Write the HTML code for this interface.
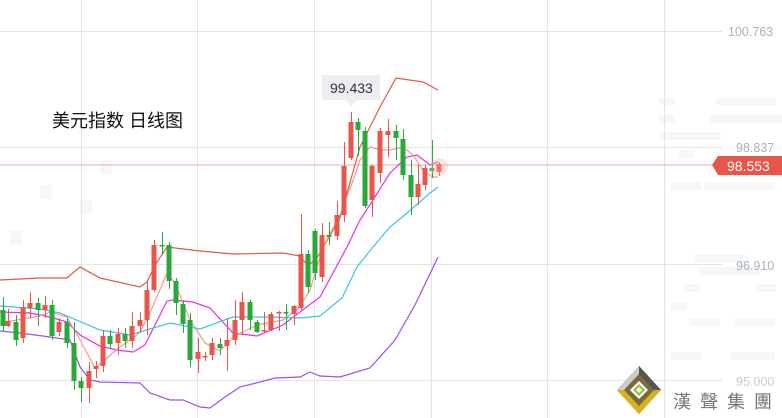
<!DOCTYPE html>
<html><head><meta charset="utf-8"><style>
html,body{margin:0;padding:0;background:#fff;}
svg{display:block;font-family:"Liberation Sans","Noto Sans CJK SC",sans-serif;}
</style></head><body>
<svg width="782" height="418" viewBox="0 0 782 418" xmlns="http://www.w3.org/2000/svg">
<g fill="#f6f7f9">
<rect x="659" y="98" width="16" height="7"/><rect x="716" y="98" width="60" height="7"/><rect x="659" y="115" width="16" height="8"/><rect x="710" y="115" width="72" height="8"/>
<rect x="659" y="132" width="62" height="8"/><rect x="678" y="150" width="16" height="8"/><rect x="671" y="182" width="30" height="8"/><rect x="704" y="182" width="70" height="8"/>
<rect x="694" y="255" width="55" height="8"/><rect x="699" y="267" width="60" height="8"/><rect x="684" y="284" width="16" height="8"/><rect x="755" y="284" width="20" height="8"/>
<rect x="671" y="302" width="16" height="8"/><rect x="690" y="318" width="30" height="8"/><rect x="735" y="318" width="40" height="8"/><rect x="671" y="352" width="30" height="8"/><rect x="730" y="352" width="45" height="8"/>
<rect x="40" y="185" width="12" height="14"/><rect x="80" y="200" width="12" height="14"/><rect x="100" y="160" width="12" height="14"/><rect x="10" y="230" width="12" height="14"/>
</g>
<g stroke="#e3e3e8" stroke-width="1">
<line x1="0" y1="31.5" x2="722" y2="31.5"/><line x1="0" y1="147.5" x2="722" y2="147.5"/><line x1="0" y1="264.5" x2="722" y2="264.5"/><line x1="0" y1="380.5" x2="722" y2="380.5"/>
<line x1="81.5" y1="0" x2="81.5" y2="418"/><line x1="197.5" y1="0" x2="197.5" y2="418"/><line x1="314.5" y1="0" x2="314.5" y2="418"/><line x1="431.5" y1="0" x2="431.5" y2="418"/><line x1="547.5" y1="0" x2="547.5" y2="418"/><line x1="664.5" y1="0" x2="664.5" y2="418"/>
</g>
<line x1="0" y1="165" x2="712" y2="165" stroke="#f0a8a4" stroke-width="1"/>
<g fill="#aab0bc" font-size="12.5"><text x="728" y="36">100.763</text><text x="736" y="152">98.837</text><text x="736" y="270">96.910</text><text x="736" y="386" fill="#c8ccd4">95.000</text></g>
<path d="M712 165 L718 156 H782 V175 H718 Z" fill="#e8554a"/>
<text x="727" y="171" fill="#fff" font-size="14">98.553</text>
<text x="52" y="127" font-size="18" fill="#111">美元指数  日线图</text>
<g fill="none" stroke-width="1.2">
<polyline stroke="#e05a40" points="0,280 40,278 67,278 80,267 100,278 140,287 147,282 155,265 167,247 200,251 233,254 283,253 300,256 308,266 317,258 340,218 360,147 380,107 396,78 423,82 438,90"/>
<polyline stroke="#ee28ee" points="0,312 30,313 50,317 67,322 80,335 100,346 117,350 133,352 145,345 167,301 173,300 193,302 210,308 233,333 257,336 283,325 300,312 320,297 347,247 360,220 373,200 390,173 407,157 417,155 430,165 438,162"/>
<polyline stroke="#f59a90" points="0,323 17,320 40,316 50,312 67,317 80,340 95,368 105,360 117,349 133,338 140,332 150,313 167,273 175,283 190,320 205,343 220,351 233,337 257,325 283,320 300,307 310,290 323,247 340,215 355,175 360,160 370,147 380,150 390,150 403,147 413,155 423,170 432,177 438,177"/>
<polyline stroke="#3cc4ea" points="0,306 40,309 60,313 100,330 130,335 170,323 200,329 233,317 267,317 300,318 320,316 342,298 357,267 373,247 390,227 407,213 430,193 438,187"/>
<polyline stroke="#9a52f0" points="0,331 20,333 50,337 70,340 80,367 90,380 100,382 140,383 150,393 170,400 183,400 200,407 210,408 225,397 240,387 260,382 275,378 300,377 310,372 320,376 340,377 370,368 395,340 415,305 438,257"/>
</g>
<path stroke="#2aa83a" stroke-width="1" fill="none" d="M3.5 297V332M16.5 315V346M38.5 298V326M52.5 300V340M67.5 318V348M74.5 322V390M81.5 377V402M110.5 330V348M125.5 328V348M162.5 232V255M169.5 242V289M176.5 278V315M183.5 300V333M190.5 313V367M220.5 338V355M250.5 300V330M257.5 320V333M286.5 304V330M308.5 250V293M315.5 229V280M329.5 222V245M358.5 118V156M365.5 127V208M396.5 125V160M403.5 129V180M411.5 160V215M432.5 140V178"/>
<path fill="#2aa83a" d="M0.5 310h5v16h-5zM13.5 322h5v18h-5zM35.5 303h5v7h-5zM49.5 305h5v31h-5zM64.5 322h5v21h-5zM71.5 343h5v38h-5zM78.5 381h5v7h-5zM107.5 336h5v8h-5zM122.5 334h5v7h-5zM159.5 245h5v1.5h-5zM166.5 245h5v36h-5zM173.5 281h5v22h-5zM180.5 304h5v20h-5zM187.5 320h5v40h-5zM217.5 344h5v4h-5zM247.5 302h5v18h-5zM254.5 322h5v10h-5zM283.5 312h5v1.5h-5zM305.5 254h5v33h-5zM312.5 231h5v42h-5zM326.5 235h5v2h-5zM355.5 122h5v8h-5zM362.5 131h5v75h-5zM393.5 131h5v7h-5zM400.5 139h5v36h-5zM408.5 175h5v22h-5zM429.5 168h5v3h-5z"/>
<path stroke="#e8554a" stroke-width="1" fill="none" d="M8.5 309V327M23.5 300V343M30.5 292V318M45.5 296V318M59.5 318V336M89.5 362V403M96.5 361V378M103.5 330V372M118.5 328V355M132.5 312V348M140.5 312V333M147.5 282V335M154.5 240V292M198.5 338V373M205.5 352V361M212.5 338V360M227.5 318V371M235.5 300V345M242.5 292V335M264.5 312V333M271.5 312V331M279.5 311V331M294.5 305V325M301.5 214V310M322.5 223V282M337.5 201V240M344.5 142V222M351.5 112V160M372.5 165V217M380.5 128V183M388.5 119V157M418.5 165V205M425.5 165V190M439.5 162V176"/>
<path fill="#e8554a" d="M5.5 321h5v5h-5zM20.5 307h5v31h-5zM27.5 303h5v5h-5zM42.5 305h5v5h-5zM56.5 322h5v10h-5zM86.5 371h5v17h-5zM93.5 366h5v3h-5zM100.5 336h5v30h-5zM115.5 334h5v9h-5zM129.5 326h5v15h-5zM137.5 320h5v6h-5zM144.5 290h5v30h-5zM151.5 245h5v45h-5zM195.5 352h5v7h-5zM202.5 356h5v1.5h-5zM209.5 343h5v12h-5zM224.5 340h5v6h-5zM232.5 320h5v20h-5zM239.5 302h5v18h-5zM261.5 330h5v1.5h-5zM268.5 314h5v16h-5zM276.5 312h5v1.5h-5zM291.5 306h5v8h-5zM298.5 254h5v54h-5zM319.5 235h5v42h-5zM334.5 215h5v21h-5zM341.5 166h5v49h-5zM348.5 122h5v36h-5zM369.5 166h5v34h-5zM377.5 131h5v42h-5zM385.5 131h5v4h-5zM415.5 184h5v13h-5zM422.5 168h5v17h-5zM436.5 164h5v8h-5z"/>
<path d="M322 75 H380 V100 H357 L351 107 L345 100 H322 Z" fill="#eceef1"/>
<text x="330" y="93" font-size="14" fill="#333">99.433</text>
<circle cx="439" cy="167" r="9" fill="#f7b0ac" opacity="0.35"/>
<g transform="translate(639,390)">
<path d="M0 -24 L22 0 L0 24 L-22 0 Z" fill="#7a6a3a"/>
<path d="M-22 0 L0 24 L22 0 L15 0 L0 16 L-15 0 Z" fill="#d8b020"/>
<path d="M0 -24 L22 0 L15 0 L0 -16 Z" fill="#555"/>
<path d="M0 -24 L-22 0 L-15 0 L0 -16 Z" fill="#ccc"/>
<path d="M0 -9 L9 0 L0 9 L-9 0 Z" fill="#fff"/><path d="M0 -6 L6 0 L0 6 L-6 0 Z" fill="#8ac03a"/><path d="M0 -3 L3 0 L0 3 L-3 0 Z" fill="#fff"/>
</g>
<text x="673" y="408" font-size="18" fill="#777" letter-spacing="9">漢聲集團</text>
</svg>
</body></html>
